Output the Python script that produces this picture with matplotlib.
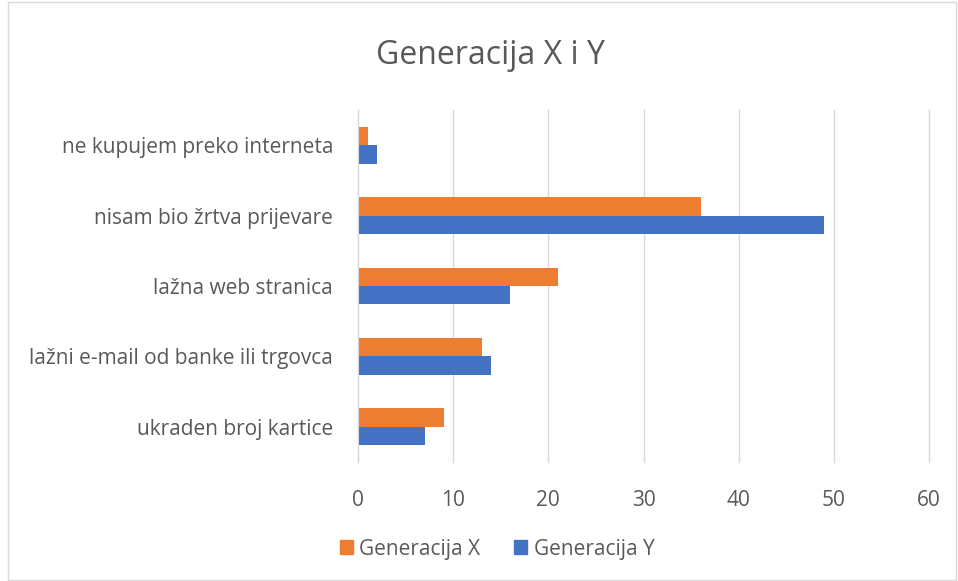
import matplotlib.pyplot as plt
import matplotlib.patches as mpatches
import numpy as np

categories = ['ukraden broj kartice', 'lažni e-mail od banke ili trgovca',
              'lažna web stranica', 'nisam bio žrtva prijevare',
              'ne kupujem preko interneta']
gen_x = [9, 13, 21, 36, 1]
gen_y = [7, 14, 16, 49, 2]
xticks = [0, 10, 20, 30, 40, 50, 60]

plt.rcParams['font.family'] = ['Open Sans', 'DejaVu Sans']
text_color = '#595959'
orange = '#ED7D31'
blue = '#4472C4'

fig = plt.figure(figsize=(9.58, 5.81), dpi=100)
ax = fig.add_axes([358 / 958, 1 - 462 / 581, (929 - 358) / 958, (462 - 110) / 581])

y = np.arange(len(categories))
h = 0.26
ax.barh(y + h / 2, gen_x, height=h, color=orange, label='Generacija X', zorder=3)
ax.barh(y - h / 2, gen_y, height=h, color=blue, label='Generacija Y', zorder=3)

ax.set_xlim(0, 60)
ax.set_ylim(-0.5, len(categories) - 0.5)
ax.set_xticks(xticks)
ax.set_yticks(y)
ax.set_yticklabels(categories)
ax.tick_params(axis='both', length=0, labelsize=15, colors=text_color)
ax.tick_params(axis='x', pad=20)
ax.tick_params(axis='y', pad=18)
ax.grid(axis='x', color='#D9D9D9', linewidth=1, zorder=0)
for gl in ax.get_xgridlines():
    gl.set_clip_on(False)
for s in ['top', 'right', 'bottom']:
    ax.spines[s].set_visible(False)
ax.spines['left'].set_color('#D9D9D9')
ax.spines['left'].set_zorder(4)

fig.text(490 / 958, 1 - 55 / 581, 'Generacija X i Y', ha='center', va='center',
         fontsize=23, color=text_color)

handles = [mpatches.Patch(color=orange, label='Generacija X'),
           mpatches.Patch(color=blue, label='Generacija Y')]
fig.legend(handles=handles, loc='center', bbox_to_anchor=(497 / 958, 1 - 549 / 581),
           ncol=2, frameon=False, fontsize=15, labelcolor=text_color,
           handlelength=0.65, handleheight=0.65, handletextpad=0.3, columnspacing=1.6)

fig.patches.append(mpatches.Rectangle((8 / 958, 0.002), 948 / 958, 0.994, transform=fig.transFigure,
                                      fill=False, edgecolor='#D9D9D9', linewidth=1))

fig.savefig('out.png', dpi=100)
